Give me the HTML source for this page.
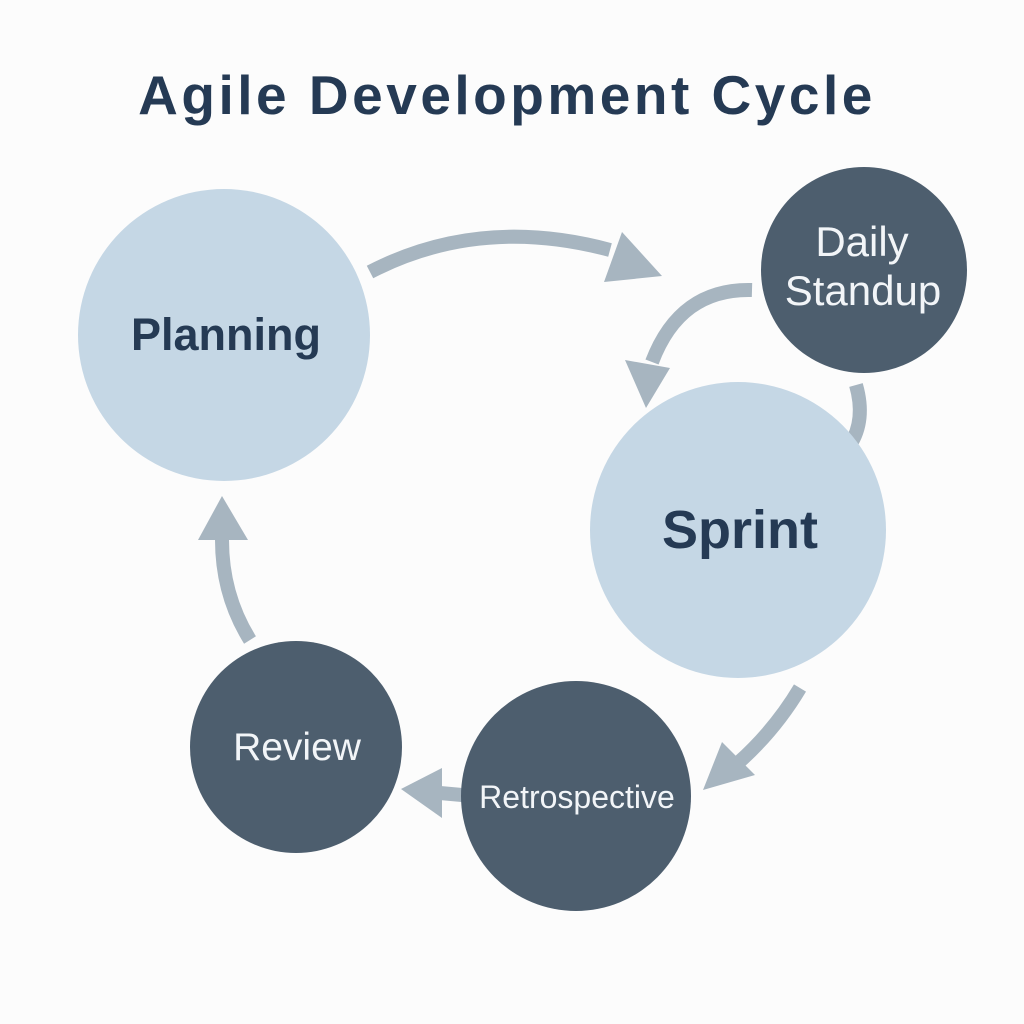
<!DOCTYPE html>
<html><head><meta charset="utf-8"><style>
html,body{margin:0;padding:0;background:#fcfcfc;}
svg{display:block}
</style></head><body>
<svg width="1024" height="1024" viewBox="0 0 1024 1024" xmlns="http://www.w3.org/2000/svg">
<rect width="1024" height="1024" fill="#fcfcfc"/>
<text x="507" y="114" text-anchor="middle" font-family="Liberation Sans, sans-serif" font-size="55" font-weight="bold" fill="#253a54" letter-spacing="3.5">Agile Development Cycle</text>

<g fill="none" stroke="#a7b5c0" stroke-width="14">
<path d="M370 272 Q480 215 610 250"/>
<path d="M752 290 Q680 288 652 362"/>
<path d="M856 385 Q866 420 850 445"/>
<path d="M800 688 Q775 730 738 763"/>
<path d="M462 795 L440 793"/>
<path d="M250 640 Q222 595 222 540"/>
</g>
<g fill="#a7b5c0">
<polygon points="662,276 604,282 622,232"/>
<polygon points="646,408 625,360 670,368"/>
<polygon points="703,790 722,742 755,775"/>
<polygon points="401,789 442,768 442,818"/>
<polygon points="222,496 198,540 248,540"/>
</g>

<circle cx="224" cy="335" r="146" fill="#c5d7e5"/>
<circle cx="738" cy="530" r="148" fill="#c5d7e5"/>
<circle cx="864" cy="270" r="103" fill="#4d5e6e"/>
<circle cx="576" cy="796" r="115" fill="#4d5e6e"/>
<circle cx="296" cy="747" r="106" fill="#4d5e6e"/>

<g font-family="Liberation Sans, sans-serif" text-anchor="middle">
<text x="226" y="350" font-size="45" font-weight="bold" fill="#253a54">Planning</text>
<text x="740" y="548" font-size="54" font-weight="bold" fill="#253a54">Sprint</text>
<text x="862" y="256" font-size="42" fill="#f2f5f8">Daily</text>
<text x="863" y="305" font-size="42" fill="#f2f5f8">Standup</text>
<text x="577" y="808" font-size="32" fill="#f2f5f8">Retrospective</text>
<text x="297" y="760" font-size="39" fill="#f2f5f8">Review</text>
</g>
</svg>
</body></html>
